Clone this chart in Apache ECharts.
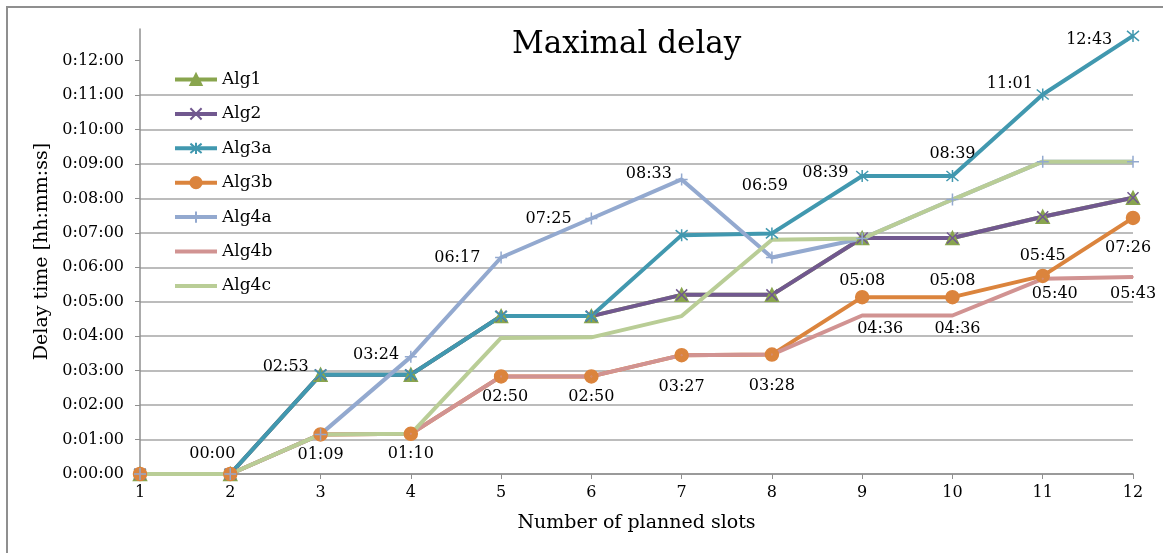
<!DOCTYPE html>
<html>
<head>
<meta charset="utf-8">
<title>Maximal delay</title>
<script src="https://cdn.jsdelivr.net/npm/echarts@6/dist/echarts.min.js"></script>
<style>
  html, body { margin: 0; padding: 0; background: #fff; }
  #wrap { position: relative; width: 1163px; height: 553px; overflow: hidden; }
  #chart { width: 1163px; height: 553px; }
  #frame { position: absolute; left: 6px; top: 6px; width: 1180px; height: 580px;
           border: 2px solid #8f8f8f; pointer-events: none; }
</style>
</head>
<body>
<div id="wrap">
  <div id="chart"></div>
  <div id="frame"></div>
</div>
<script>
  // number of planned slots
  var slots = ['1', '2', '3', '4', '5', '6', '7', '8', '9', '10', '11', '12'];

  // delay values in seconds
  var alg1  = [0, 0, 173, 173, 275, 275, 312, 312, 411, 411, 448, 481];
  var alg2  = [0, 0, 173, 173, 275, 275, 312, 312, 411, 411, 448, 481];
  var alg3a = [0, 0, 173, 173, 275, 275, 416, 419, 519, 519, 661, 763];
  var alg3b = [0, 0, 69, 70, 170, 170, 207, 208, 308, 308, 345, 446];
  var alg4a = [0, 0, 69, 204, 377, 445, 513, 377, 410, 478, 544, 544];
  var alg4b = [0, 0, 69, 70, 170, 170, 207, 208, 276, 276, 340, 343];
  var alg4c = [0, 0, 69, 70, 237, 238, 275, 408, 410, 478, 544, 544];

  // y tick labels (seconds)
  var yTicks = [0, 60, 120, 180, 240, 300, 360, 420, 480, 540, 600, 660, 720];

  // which points carry a data label, and where it sits: [position, dx, dy]
  var alg3aLabels = [null, ['top', -18, 0], ['left', 0, -8], null, null, null, null,
    ['top', -7, -28], ['left', -2, -3], ['top', 0, -2], ['left', 2, -11], ['left', -9, 4]];
  var alg3bLabels = [null, null, ['bottom', 0, 0], ['bottom', 0, 0], ['bottom', 4, 0], ['bottom', 0, 0],
    ['bottom', 0, 11], ['bottom', 0, 11], ['top', 0, 4], ['top', 0, 4], ['top', 0, 0], ['bottom', -5, 10]];
  var alg4aLabels = [null, null, null, ['left', 0, -2], ['left', -9, 0], ['left', -8, 0], ['left', 2, -6],
    null, null, null, null, null];
  var alg4bLabels = [null, null, null, null, null, null, null, null,
    ['bottom', 18, -1], ['bottom', 5, -1], ['bottom', 12, 1], ['bottom', 0, 3]];

  var FONT = 'DejaVu Serif';

  function pad(n) { return (n < 10 ? '0' : '') + n; }
  function mmss(v) { return pad(Math.floor(v / 60)) + ':' + pad(v % 60); }

  function withLabels(values, spec) {
    return values.map(function (v, i) {
      var s = spec && spec[i];
      if (!s) return { value: v };
      return {
        value: v,
        label: { show: true, position: s[0], offset: [s[1], s[2]] }
      };
    });
  }

  var X_MARK = 'path://M0,0L10,10M10,0L0,10';
  var STAR_MARK = 'path://M0,0L10,10M10,0L0,10M5,-1L5,11';
  var PLUS_MARK = 'path://M5,0L5,10M0,5L10,5';

  function series(name, values, color, symbol, size, spec) {
    return {
      name: name,
      type: 'line',
      data: withLabels(values, spec),
      symbol: symbol,
      symbolSize: size,
      showAllSymbol: true,
      lineStyle: { color: color, width: 4 },
      itemStyle: { color: color, borderColor: color, borderWidth: 1.5 },
      label: {
        show: false,
        formatter: function (p) { return mmss(p.value); },
        fontFamily: FONT, fontSize: 16, color: '#000'
      },
      emphasis: { disabled: true },
      animation: false
    };
  }

  var chart = echarts.init(document.getElementById('chart'), null, { renderer: 'canvas' });

  var splitColors = yTicks.map(function () { return '#a6a6a6'; });
  splitColors.push('rgba(0,0,0,0)');

  chart.setOption({
    backgroundColor: '#fff',
    title: {
      text: 'Maximal delay',
      left: 507,
      top: 24,
      textStyle: { fontFamily: FONT, fontSize: 31, fontWeight: 'normal', color: '#000' }
    },
    legend: {
      orient: 'vertical',
      left: 168,
      top: 66,
      itemWidth: 42,
      itemHeight: 14,
      itemGap: 17.4,
      lineStyle: { width: 4 },
      textStyle: { fontFamily: FONT, fontSize: 17, color: '#000' },
      data: ['Alg1', 'Alg2', 'Alg3a', 'Alg3b', 'Alg4a',
        { name: 'Alg4b', itemStyle: { opacity: 0 } },
        { name: 'Alg4c', itemStyle: { opacity: 0 } }]
    },
    grid: { left: 140, right: 30, top: 29, bottom: 79 },
    xAxis: {
      type: 'category',
      data: slots,
      boundaryGap: false,
      name: 'Number of planned slots',
      nameLocation: 'middle',
      nameGap: 40,
      nameTextStyle: { fontFamily: FONT, fontSize: 19, color: '#000' },
      axisLine: { lineStyle: { color: '#8f8f8f', width: 1.5 } },
      axisTick: { show: true, length: 5, lineStyle: { color: '#8f8f8f' } },
      axisLabel: { fontFamily: FONT, fontSize: 16, color: '#000', margin: 11 }
    },
    yAxis: {
      type: 'value',
      min: 0,
      max: 775,
      interval: 60,
      name: 'Delay time [hh:mm:ss]',
      nameLocation: 'middle',
      nameGap: 84,
      nameTextStyle: { fontFamily: FONT, fontSize: 19, color: '#000' },
      axisLine: { show: true, lineStyle: { color: '#8f8f8f', width: 1.5 } },
      axisTick: { show: true, length: 5, customValues: yTicks, lineStyle: { color: '#8f8f8f' } },
      axisLabel: {
        fontFamily: FONT, fontSize: 16, color: '#000', margin: 16,
        customValues: yTicks,
        formatter: function (v) { return v % 60 === 0 ? '0:' + mmss(v) : ''; }
      },
      splitLine: { show: true, showMaxLine: false, lineStyle: { color: splitColors, width: 1.5 } }
    },
    series: [
      series('Alg1', alg1, '#89A54E', 'triangle', 13, null),
      series('Alg2', alg2, '#71588F', X_MARK, 11, null),
      series('Alg3a', alg3a, '#4198AF', STAR_MARK, 12, alg3aLabels),
      series('Alg3b', alg3b, '#DB843D', 'circle', 13, alg3bLabels),
      series('Alg4a', alg4a, '#93A9CF', PLUS_MARK, 12, alg4aLabels),
      series('Alg4b', alg4b, '#D19392', 'circle', 0.5, alg4bLabels),
      series('Alg4c', alg4c, '#B9CD96', 'none', 0, null)
    ]
  });
</script>
</body>
</html>
